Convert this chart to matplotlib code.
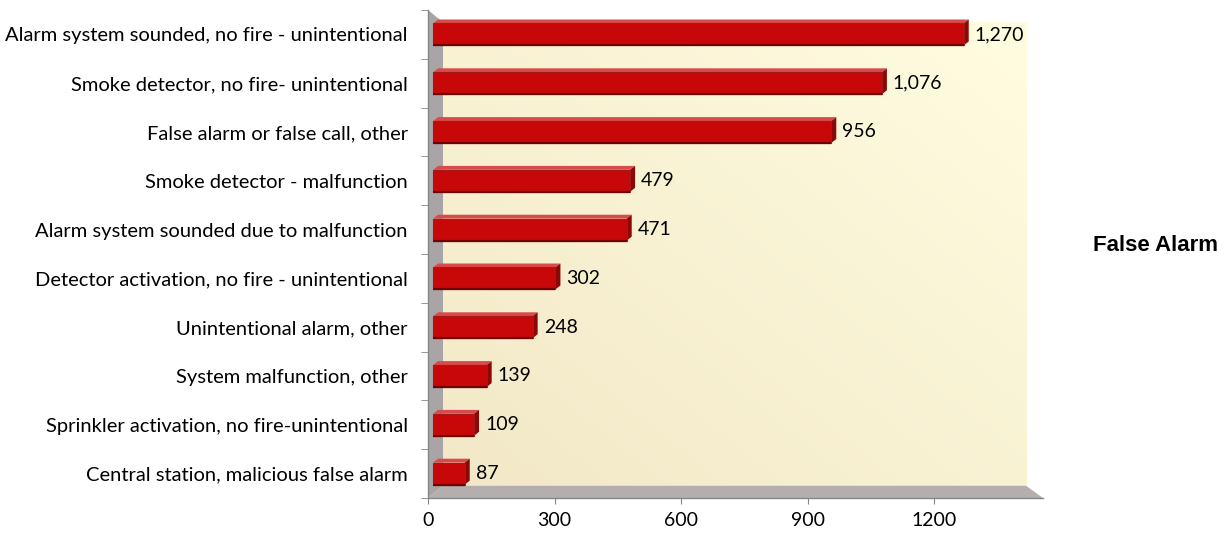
import numpy as np
import matplotlib
matplotlib.use("Agg")
import matplotlib.pyplot as plt
from matplotlib.patches import Polygon, Rectangle

categories = [
    "Central station, malicious false alarm",
    "Sprinkler activation, no fire-unintentional",
    "System malfunction, other",
    "Unintentional alarm, other",
    "Detector activation, no fire - unintentional",
    "Alarm system sounded due to malfunction",
    "Smoke detector - malfunction",
    "False alarm or false call, other",
    "Smoke detector, no fire- unintentional",
    "Alarm system sounded, no fire - unintentional",
]
values = [87, 109, 139, 248, 302, 471, 479, 956, 1076, 1270]
x_ticks = [0, 300, 600, 900, 1200]

plt.rcParams["font.family"] = ["Lato", "DejaVu Sans"]

fig = plt.figure(figsize=(12.2, 5.35), dpi=100)
ax = fig.add_axes([0.3508, 0.0692, 0.5041, 0.9121])

XMAX = 1458
ax.set_xlim(0, XMAX)
ax.set_ylim(-0.5, len(categories) - 0.5)

# 3D depth of the walls (data units)
dxw, dyw = 35.6, 0.25
ytop = len(categories) - 0.5
wall_right = 1418

# back wall with soft gradient
grad = np.linspace(0, 1, 256)
gx, gy = np.meshgrid(grad, grad)
g = (gx + gy) / 2
c0 = np.array([0.95, 0.91, 0.78])
c1 = np.array([1.0, 0.99, 0.88])
img = c0 + (c1 - c0) * g[..., None]
ax.imshow(img, extent=[dxw, wall_right, -0.5 + dyw, ytop - dyw],
          origin="lower", aspect="auto", zorder=0)

# floor
ax.add_patch(Polygon([(0, -0.5), (XMAX, -0.5), (wall_right, -0.5 + dyw), (dxw, -0.5 + dyw)],
                     closed=True, facecolor="#b5aeae", edgecolor="none", zorder=1))
# left wall
ax.add_patch(Polygon([(0, -0.5), (dxw, -0.5 + dyw), (dxw, ytop - dyw), (0, ytop)],
                     closed=True, facecolor="#a9a5a6", edgecolor="none", zorder=1))

# bars
x0 = 12
h = 0.45
dxb, dyb = 12, 0.08
for i, v in enumerate(values):
    lo, hi = i - h / 2, i + h / 2
    ax.add_patch(Polygon([(x0, hi), (v, hi), (v + dxb, hi + dyb), (x0 + dxb, hi + dyb)],
                         closed=True, facecolor="#d94a4a", edgecolor="none", zorder=3))
    ax.add_patch(Polygon([(v, lo), (v + dxb, lo + dyb), (v + dxb, hi + dyb), (v, hi)],
                         closed=True, facecolor="#8a0808", edgecolor="none", zorder=3))
    ax.add_patch(Rectangle((x0, lo), v - x0, h, facecolor="#c80808",
                           edgecolor="#a01a1a", lw=0.8, zorder=4))
    ax.plot([x0, v], [lo, lo], color="#6e0000", lw=1.6, zorder=5,
            solid_capstyle="butt")
    ax.annotate(f"{v:,}", xy=(v, i), xytext=(8, 0), textcoords="offset points",
                va="center", ha="left", fontsize=14, color="black", zorder=6)

# axes styling
for s in ["top", "right"]:
    ax.spines[s].set_visible(False)
for s in ["left", "bottom"]:
    ax.spines[s].set_color("#868686")
    ax.spines[s].set_linewidth(1.0)
    ax.spines[s].set_zorder(7)

ax.set_xticks(x_ticks)
ax.set_xticklabels([str(t) for t in x_ticks], fontsize=14)
ax.tick_params(axis="x", length=4, color="#868686", pad=6)

ax.set_yticks(range(len(categories)))
ax.set_yticklabels(categories, fontsize=14.5)
ax.tick_params(axis="y", which="major", length=0, pad=14.5)
ax.set_yticks(np.arange(-0.5, len(categories), 1.0), minor=True)
ax.tick_params(axis="y", which="minor", length=5, color="#868686")

fig.text(0.896, 0.542, "False Alarm", fontsize=16, fontweight="bold",
         family=["Liberation Sans", "DejaVu Sans"], va="center", ha="left")

fig.savefig("out.png", dpi=100, facecolor="white")
